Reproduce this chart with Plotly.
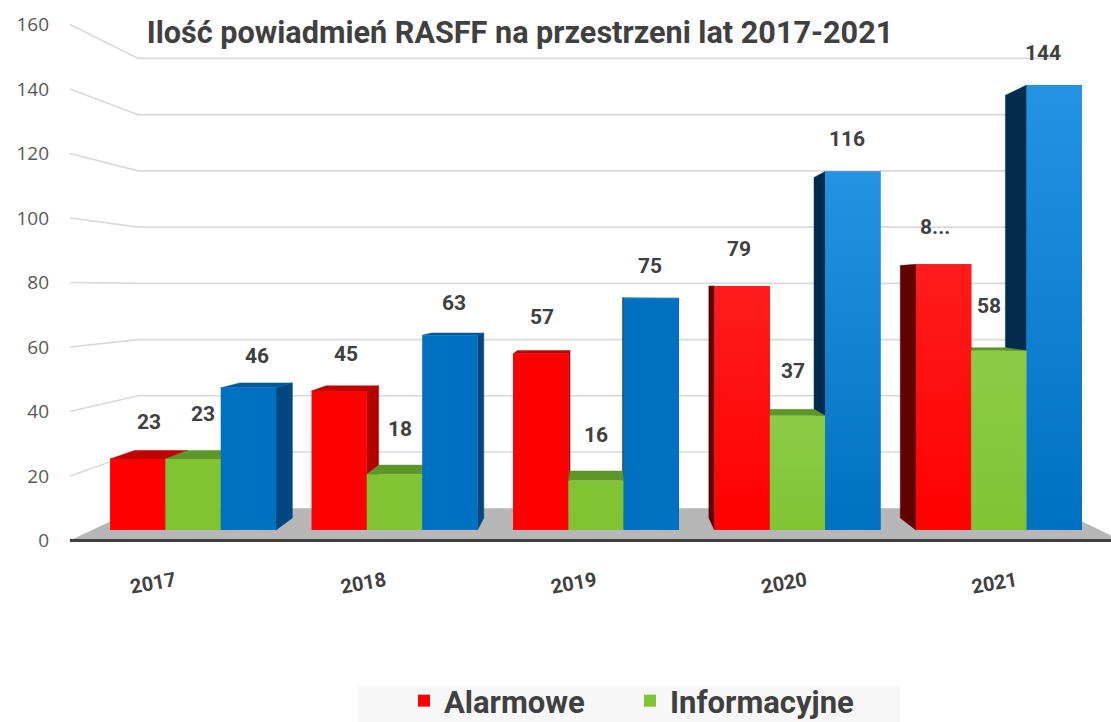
import plotly.graph_objects as go

# ---------------- data ----------------
years = ["2017", "2018", "2019", "2020", "2021"]
series_names = ["Alarmowe", "Informacyjne", "Razem"]
alarmowe = [23, 45, 57, 79, 86]
informacyjne = [23, 18, 16, 37, 58]
razem = [46, 63, 75, 116, 144]
y_ticks = [0, 20, 40, 60, 80, 100, 120, 140, 160]
truncated_labels = {("Alarmowe", 4): "8..."}
title_text = "Ilość powiadmień RASFF na przestrzeni lat 2017-2021"

series_values = [alarmowe, informacyjne, razem]
show_in_legend = [True, True, False]

# ---------------- styles ----------------
face_colors = [
    dict(front="#ff0000", light="#ff1c1c", top="#c00000", right="#b00000", left="#600000"),
    dict(front="#80c434", light="#8ccc46", top="#5f962a", right="#5b8c25", left="#2f4c14"),
    dict(front="#0070c0", light="#2593e3", top="#005a9e", right="#00487f", left="#032c4c"),
]
label_lift = [12.0, 14.6, 10.4]  # data-label distance above bar top, per series (value units)
gradient_points = [3, 4]  # categories formatted with a gradient fill
TXT = "#404040"
FONT = "Roboto"

W, H, ML = 1111, 722, 50
PLOT_W = W - ML

# one-point perspective (in front-plane data units)
VP_X, VP_Y = 2.03, 78.0
K_LABEL, K_BAR_BACK, K_WALL = 1.044, 0.95, 0.91
X_RANGE = [-0.71, 4.556]
Y_RANGE = [-62.14, 171.52]
BARGAP = 0.176
FLOOR_X = (-0.5, 4.5)


def proj(X, V, k):
    return VP_X + (X - VP_X) * k, VP_Y + (V - VP_Y) * k


def poly(points):
    xs = [p[0] for p in points] + [points[0][0]]
    ys = [p[1] for p in points] + [points[0][1]]
    return xs, ys


def px_to_paper_x(px):
    return (px - ML) / PLOT_W


fig = go.Figure()

# floor
fl = [proj(FLOOR_X[0], 0, K_LABEL), proj(FLOOR_X[1], 0, K_LABEL),
      proj(FLOOR_X[1], 0, K_WALL), proj(FLOOR_X[0], 0, K_WALL)]
xs, ys = poly(fl)
fig.add_trace(go.Scatter(x=xs, y=ys, fill="toself", fillcolor="#b7b7b7",
                         line=dict(width=0), mode="lines", hoverinfo="skip",
                         showlegend=False))

# gridlines on side and back wall
gx, gy = [], []
for v in y_ticks[1:]:
    for p in (proj(FLOOR_X[0], v, K_LABEL), proj(FLOOR_X[0], v, K_WALL),
              proj(FLOOR_X[1], v, K_WALL)):
        gx.append(p[0]); gy.append(p[1])
    gx.append(None); gy.append(None)
fig.add_trace(go.Scatter(x=gx, y=gy, mode="lines",
                         line=dict(color="#d9d9d9", width=1.6),
                         hoverinfo="skip", showlegend=False))

# front axis line
a0, a1 = proj(FLOOR_X[0], 0, K_LABEL), proj(FLOOR_X[1], 0, K_LABEL)
fig.add_trace(go.Scatter(x=[a0[0], a1[0]], y=[a0[1], a1[1]], mode="lines",
                         line=dict(color="#404040", width=3),
                         hoverinfo="skip", showlegend=False))

# side / top faces, painter's order
group_w = 1 - BARGAP
bar_w = group_w / 3
faces = []
for s, vals in enumerate(series_values):
    for i, v in enumerate(vals):
        x0 = i - group_w / 2 + s * bar_w
        x1 = x0 + bar_w
        c = (x0 + x1) / 2
        key = abs(c - VP_X)
        if x1 <= VP_X:
            pts = [proj(x1, 0, 1), proj(x1, v, 1), proj(x1, v, K_BAR_BACK), proj(x1, 0, K_BAR_BACK)]
            faces.append((key, 0, pts, face_colors[s]["right"]))
        elif x0 >= VP_X:
            pts = [proj(x0, 0, 1), proj(x0, v, 1), proj(x0, v, K_BAR_BACK), proj(x0, 0, K_BAR_BACK)]
            faces.append((key, 0, pts, face_colors[s]["left"]))
        if v < VP_Y:
            pts = [proj(x0, v, 1), proj(x1, v, 1), proj(x1, v, K_BAR_BACK), proj(x0, v, K_BAR_BACK)]
            faces.append((key, 1, pts, face_colors[s]["top"]))
faces.sort(key=lambda f: (-f[0], f[1]))
for _, _, pts, col in faces:
    xs, ys = poly(pts)
    fig.add_trace(go.Scatter(x=xs, y=ys, fill="toself", fillcolor=col,
                             line=dict(width=0.5, color=col), mode="lines",
                             hoverinfo="skip", showlegend=False))

# front faces as bars (overlay axis so they sit on top)
for s, vals in enumerate(series_values):
    fig.add_trace(go.Bar(x=list(range(len(years))), y=vals, name=series_names[s],
                         marker=dict(color=face_colors[s]["front"], line=dict(width=0)),
                         yaxis="y2", showlegend=show_in_legend[s]))

# gradient sheen on individually formatted points
for s, vals in enumerate(series_values):
    for i in gradient_points:
        v = vals[i]
        x0 = i - group_w / 2 + s * bar_w
        x1 = x0 + bar_w
        xs, ys = poly([(x0, 0), (x1, 0), (x1, v), (x0, v)])
        fig.add_trace(go.Scatter(
            x=xs, y=ys, yaxis="y2", mode="lines", line=dict(width=0),
            fill="toself",
            fillgradient=dict(type="vertical", start=0, stop=v,
                              colorscale=[[0, face_colors[s]["front"]],
                                          [1, face_colors[s]["light"]]]),
            hoverinfo="skip", showlegend=False))

# data labels
for s, vals in enumerate(series_values):
    for i, v in enumerate(vals):
        x0 = i - group_w / 2 + s * bar_w
        c = x0 + bar_w / 2
        lx = proj(c, v, 0.975)[0]
        txt = truncated_labels.get((series_names[s], i), str(v))
        fig.add_annotation(x=lx, y=v + label_lift[s], xref="x", yref="y2", text=txt,
                           showarrow=False,
                           font=dict(family=FONT, size=21, color=TXT, weight="bold"))

# carrier trace for label-plane axes
fig.add_trace(go.Scatter(x=[None], y=[None], xaxis="x2", yaxis="y3",
                         showlegend=False, hoverinfo="skip"))


def to_label_x(x):
    return VP_X + (x - VP_X) / K_LABEL


def to_label_y(y):
    return VP_Y + (y - VP_Y) / K_LABEL


fig.update_layout(
    width=W, height=H,
    margin=dict(l=ML, r=0, t=0, b=0, pad=0, autoexpand=False),
    paper_bgcolor="white", plot_bgcolor="white",
    barmode="group", bargap=BARGAP, bargroupgap=0,
    title=dict(text=title_text, x=520 / W, xanchor="center", y=1 - 32 / H,
               yanchor="middle",
               font=dict(family=FONT, size=30.6, color=TXT, weight="bold")),
    xaxis=dict(range=X_RANGE, visible=False),
    yaxis=dict(range=Y_RANGE, visible=False),
    yaxis2=dict(range=Y_RANGE, overlaying="y", visible=False),
    yaxis3=dict(range=[to_label_y(Y_RANGE[0]), to_label_y(Y_RANGE[1])],
                overlaying="y", anchor="x", side="left",
                tickvals=y_ticks, showgrid=False, zeroline=False, showline=False,
                ticks="", tickfont=dict(family="Open Sans", size=19, color="#595959")),
    xaxis2=dict(range=[to_label_x(X_RANGE[0]), to_label_x(X_RANGE[1])],
                overlaying="x", anchor="free", position=1 - 565 / H,
                tickvals=list(range(len(years))), ticktext=years, tickangle=-10,
                showgrid=False, zeroline=False, showline=False, ticks="",
                tickfont=dict(family=FONT, size=20, color=TXT, weight="bold")),
    legend=dict(orientation="h", x=px_to_paper_x(404), xanchor="left",
                y=1 - 674 / H, yanchor="top", bgcolor="rgba(0,0,0,0)",
                entrywidth=181, traceorder="normal",
                font=dict(family=FONT, size=31, color=TXT, weight="bold")),
    shapes=[dict(type="rect", xref="paper", yref="paper",
                 x0=px_to_paper_x(358), x1=px_to_paper_x(900), y0=-0.01,
                 y1=1 - 686 / H,
                 fillcolor="#f7f7f7", line=dict(width=0), layer="above")],
    showlegend=True,
)

fig.write_html("out.html", config={"displayModeBar": False},
               post_script="document.body.style.margin='0px';")
